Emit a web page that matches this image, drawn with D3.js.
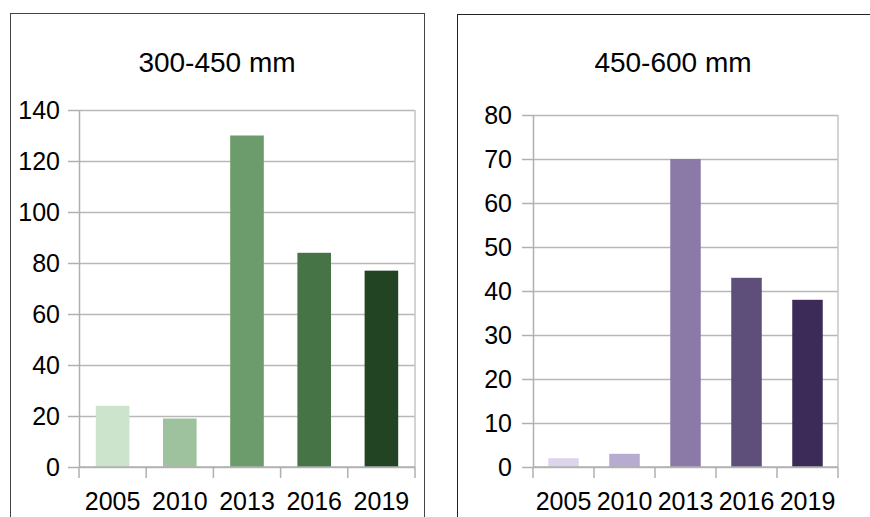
<!DOCTYPE html>
<html>
<head>
<meta charset="utf-8">
<script src="https://cdn.jsdelivr.net/npm/d3@7"></script>
<style>
  html, body { margin: 0; padding: 0; background: #fff; }
  svg { display: block; }
  text { font-family: "Liberation Sans", Arial, sans-serif; fill: #000; }
</style>
</head>
<body>
<svg id="mainsvg" width="870" height="517"></svg>
<script>
const years = ['2005', '2010', '2013', '2016', '2019'];

// 300-450 mm
const titleA = '300-450 mm';
const valuesA = [24, 19, 130, 84, 77];
const ticksA = [0, 20, 40, 60, 80, 100, 120, 140];
const colorsA = ['#cce4cc', '#9dc29d', '#6c9c6c', '#467446', '#234423'];

// 450-600 mm
const titleB = '450-600 mm';
const valuesB = [2, 3, 70, 43, 38];
const ticksB = [0, 10, 20, 30, 40, 50, 60, 70, 80];
const colorsB = ['#ddd5ec', '#b7abd0', '#8b7aa8', '#5e4e7a', '#3c2b58'];

const svg = d3.select('#mainsvg');

const drawPanel = (opt, title, values, ticks, colors) => {
  const g = svg.append('g');

  // outer frame
  g.append('rect')
    .attr('x', opt.frame[0] + 0.5)
    .attr('y', opt.frame[1] + 0.5)
    .attr('width', opt.frame[2])
    .attr('height', 600)
    .attr('fill', 'none')
    .attr('stroke', opt.frameColor)
    .attr('stroke-width', 1);

  g.append('text')
    .text(title)
    .attr('x', opt.frame[0] + opt.frame[2] / 2)
    .attr('y', 72)
    .attr('text-anchor', 'middle')
    .attr('font-size', 28);

  const innerW = opt.right - opt.left;
  const innerH = opt.bottom - opt.top;

  const x = d3.scaleBand().domain(years).range([0, innerW]).padding(0);
  const y = d3.scaleLinear().domain([0, d3.max(ticks)]).range([innerH, 0]);

  const pg = g.append('g').attr('transform', `translate(${opt.left}, ${opt.top})`);

  // gridlines
  const grid = pg.append('g')
    .call(d3.axisLeft(y).tickValues(ticks).tickSize(-innerW).tickFormat(''));
  grid.select('.domain').remove();
  grid.selectAll('line').attr('stroke', '#b8b8b8').attr('stroke-width', 1.5);

  // right border of plot
  pg.append('line')
    .attr('x1', innerW).attr('x2', innerW)
    .attr('y1', 0).attr('y2', innerH)
    .attr('stroke', '#c4c4c4').attr('stroke-width', 1.5);

  // bars
  pg.selectAll('rect.bar')
    .data(years)
    .enter()
    .append('rect')
    .attr('class', 'bar')
    .attr('x', d => x(d) + x.bandwidth() * 0.25)
    .attr('width', x.bandwidth() * 0.5)
    .attr('y', (d, i) => y(values[i]))
    .attr('height', (d, i) => innerH - y(values[i]))
    .attr('fill', (d, i) => colors[i]);

  // y axis
  const yAxis = pg.append('g')
    .call(d3.axisLeft(y).tickValues(ticks).tickSize(11).tickPadding(opt.pad).tickSizeOuter(0));
  yAxis.select('.domain').attr('stroke', '#b0b0b0').attr('stroke-width', 1.5);
  yAxis.selectAll('line').attr('stroke', '#b0b0b0').attr('stroke-width', 1.5);
  yAxis.selectAll('text').attr('font-size', 25).attr('font-family', '"Liberation Sans", Arial, sans-serif').attr('fill', '#000');

  // x axis
  const xAxis = pg.append('g')
    .attr('transform', `translate(0, ${innerH})`)
    .call(d3.axisBottom(x).tickSize(0).tickPadding(25));
  xAxis.select('.domain').remove();
  xAxis.selectAll('text').attr('font-size', 25).attr('font-family', '"Liberation Sans", Arial, sans-serif').attr('fill', '#000');

  pg.append('line')
    .attr('x1', 0).attr('x2', innerW)
    .attr('y1', innerH).attr('y2', innerH)
    .attr('stroke', '#b0b0b0').attr('stroke-width', 1.5);

  const bounds = years.map(d => x(d)).concat([innerW]);
  pg.selectAll('line.xtick')
    .data(bounds)
    .enter()
    .append('line')
    .attr('class', 'xtick')
    .attr('x1', d => d).attr('x2', d => d)
    .attr('y1', innerH).attr('y2', innerH + 11)
    .attr('stroke', '#b0b0b0').attr('stroke-width', 1.5);
};

drawPanel({ frame: [10, 13, 414], frameColor: '#444', left: 79, right: 415, top: 110, bottom: 467, pad: 8 },
  titleA, valuesA, ticksA, colorsA);
drawPanel({ frame: [457, 14, 432], frameColor: '#222', left: 533, right: 838, top: 115, bottom: 467, pad: 10 },
  titleB, valuesB, ticksB, colorsB);
</script>
</body>
</html>
